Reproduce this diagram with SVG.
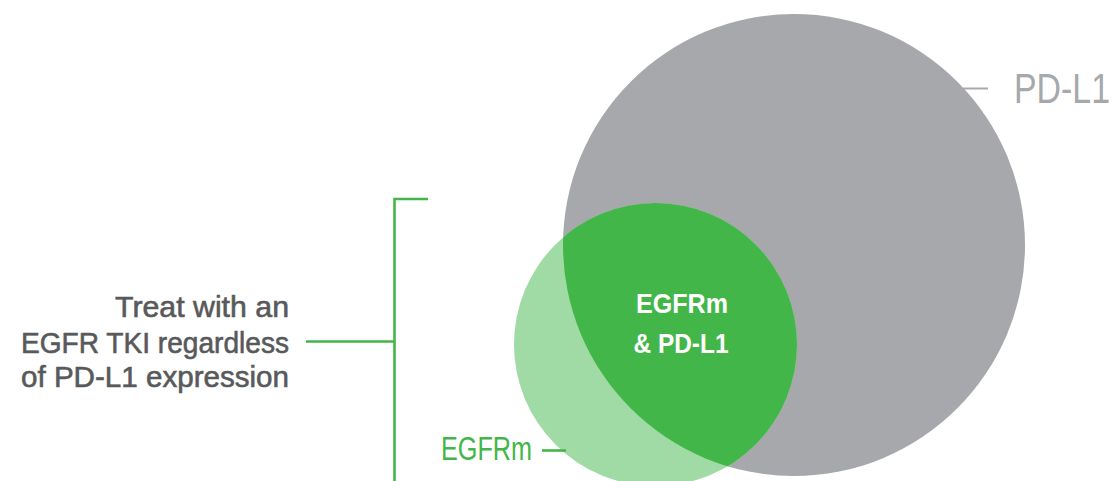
<svg xmlns="http://www.w3.org/2000/svg" width="1116" height="481" viewBox="0 0 1116 481">
<style>
.lbl{font-family:"Liberation Sans",Arial,sans-serif;}
.left{fill:#58595B;stroke:#58595B;stroke-width:0.6;font-size:30px;text-anchor:end;}
.ctr{fill:#FFFFFF;font-size:28px;font-weight:bold;text-anchor:middle;}
.gline{stroke:#43B649;stroke-width:2.6;fill:none;}
</style>
<defs>
<clipPath id="grayClip"><circle cx="794" cy="245" r="231"/></clipPath>
</defs>
<rect width="1116" height="481" fill="#FFFFFF"/>
<g id="pdl1-circle">
<circle cx="794" cy="245" r="231" fill="#A7A8AB"/>
</g>
<g id="egfrm-circle">
<circle cx="655.5" cy="344.5" r="141.5" fill="#A0DAA4"/>
</g>
<g id="overlap">
<circle cx="655.5" cy="344.5" r="141.5" fill="#43B649" clip-path="url(#grayClip)"/>
<text class="lbl ctr" x="682" y="313" textLength="92" lengthAdjust="spacingAndGlyphs">EGFRm</text>
<text class="lbl ctr" x="681" y="353" textLength="95" lengthAdjust="spacingAndGlyphs">&amp; PD-L1</text>
</g>
<g id="connectors">
<line x1="963" y1="88.5" x2="988" y2="88.5" stroke="#A7A8AB" stroke-width="2"/>
<line class="gline" x1="542" y1="450.5" x2="566" y2="450.5"/>
<polyline class="gline" points="428,199 394.5,199 394.5,481"/>
<line class="gline" x1="306" y1="341.5" x2="394.5" y2="341.5"/>
</g>
<g id="pdl1-label">
<text class="lbl" x="1014" y="103" font-size="42" fill="#A7A8AB" textLength="96" lengthAdjust="spacingAndGlyphs">PD-L1</text>
</g>
<g id="egfrm-label">
<text class="lbl" x="441" y="460" font-size="34" fill="#43B649" textLength="91" lengthAdjust="spacingAndGlyphs">EGFRm</text>
</g>
<g id="treat-label">
<text class="lbl left" x="289" y="317" textLength="174" lengthAdjust="spacingAndGlyphs">Treat with an</text>
<text class="lbl left" x="289" y="352.5" textLength="268" lengthAdjust="spacingAndGlyphs">EGFR TKI regardless</text>
<text class="lbl left" x="289" y="387" textLength="268" lengthAdjust="spacingAndGlyphs">of PD-L1 expression</text>
</g>
</svg>
